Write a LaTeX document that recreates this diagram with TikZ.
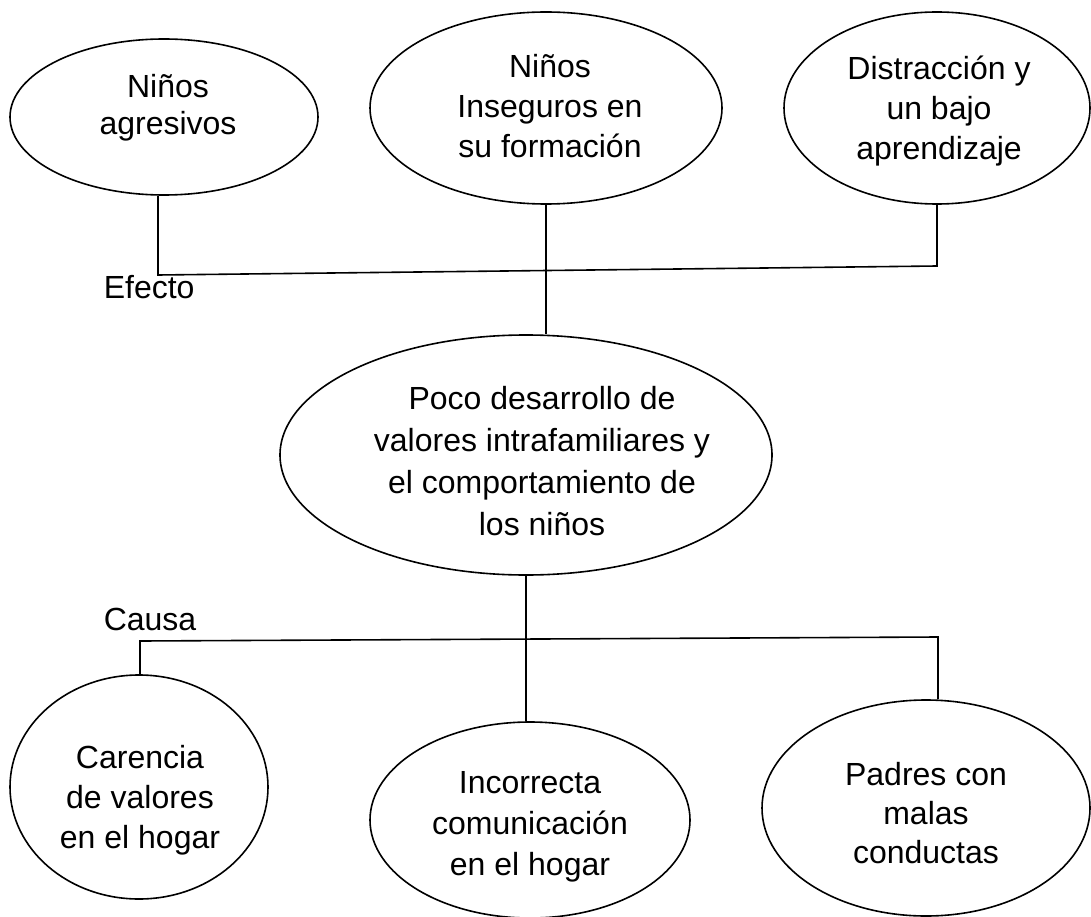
\documentclass[tikz,border=0pt]{standalone}
\usepackage{fontspec}
\setmainfont{Liberation Sans}
\usetikzlibrary{shapes.geometric}

\begin{document}
\begin{tikzpicture}[x=1pt,y=-1pt,line width=1.6pt,
  bubble/.style={draw,ellipse,inner sep=0pt},
  txt/.style={align=center,inner sep=0pt,anchor=base,
    font=\fontsize{32}{#1}\selectfont},
  txt/.default=40]
\useasboundingbox (0,0) rectangle (1091,917);
% Ellipses
\node[bubble,minimum width=308pt,minimum height=156pt] (agr) at (164,117) {};
\node[bubble,minimum width=352pt,minimum height=192pt] (ins) at (546,108) {};
\node[bubble,minimum width=306pt,minimum height=192pt] (dis) at (937,108) {};
\node[bubble,minimum width=492pt,minimum height=240pt] (poco) at (526,455) {};
\node[bubble,minimum width=258pt,minimum height=224pt] (car) at (139,787) {};
\node[bubble,minimum width=320pt,minimum height=196pt] (inc) at (530,820) {};
\node[bubble,minimum width=328pt,minimum height=216pt] (pad) at (926,808) {};
% Texts (last baseline)
\node[txt=37] (agr-t) at (168,135) {Niños\\agresivos};
\node[txt] (ins-t) at (550,158) {Niños\\Inseguros en\\su formación};
\node[txt] (dis-t) at (939,160) {Distracción y\\un bajo\\aprendizaje};
\node[txt=42] (poco-t) at (542,535) {Poco desarrollo de\\valores intrafamiliares y\\el comportamiento de\\los niños};
\node[txt] (car-t) at (140,848) {Carencia\\de valores\\en el hogar};
\node[txt=41] (inc-t) at (530,875) {Incorrecta\\comunicación\\en el hogar};
\node[txt=39] (pad-t) at (926,863) {Padres con\\malas\\conductas};
% Efecto
\coordinate (e1) at (158,275);
\coordinate (e2) at (546,270);
\coordinate (e3) at (937,266);
\draw (agr.south -| e1) -- (e1) -- (e3) -- (dis.south -| e3);
\draw (ins.south -| e2) -- (e2) -- (poco.north -| e2);
\node[txt,anchor=base west] (efecto) at (103,298) {Efecto};
% Causa
\coordinate (c1) at (140,641);
\coordinate (c2) at (526,639);
\coordinate (c3) at (938,637);
\draw (car.north -| c1) -- (c1) -- (c3) -- (pad.north -| c3);
\draw (poco.south) -- (c2) -- (inc.north -| c2);
\node[txt,anchor=base west] (causa) at (103,630) {Causa};
\end{tikzpicture}
\end{document}
